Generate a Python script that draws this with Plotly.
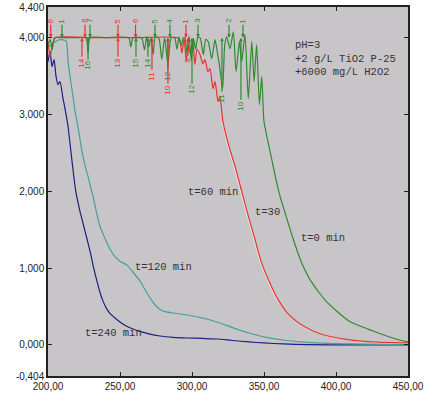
import plotly.graph_objects as go

# ---------------- data ----------------
x_ticks = [200, 250, 300, 350, 400, 450]
x_ticktext = ["200,00", "250,00", "300,00", "350,00", "400,00", "450,00"]
y_ticks = [-404, 0, 1000, 2000, 3000, 4000, 4400]
y_ticktext = ["-0,404", "0,000", "1,000", "2,000", "3,000", "4,000", "4,400"]

# t=0 min (green)
t0_x = [200.0, 201.5, 203.0, 204.5, 210, 220, 226.5, 227.8, 229.2, 240, 256, 257.5, 259, 265,
        267.0, 268.5, 270.0, 271.5, 273.0, 274.5, 277.0, 279.0, 281.0, 283.3, 285.5, 288.0,
        289.5, 291.0, 292.5, 294.0, 295.1, 296.5, 298.0, 299.5, 301.0, 302.5, 304.0, 305.6,
        307.9, 309.5, 311.3, 313.7, 316.0, 317.5, 319.0, 321.3, 322.7, 324.1, 326.4, 328.7,
        330.6, 332.9, 334.5, 336.8, 339.1, 341.5, 343.1, 344.9, 346.8, 348.4, 349.3,
        350.0, 354.2, 360.4, 366.0, 370.8, 375.7, 382.6, 393.1, 409.0, 425.7, 441.7, 450.0]
t0_y = [3900, 3980, 3850, 4000, 4000, 4000, 4000, 3800, 4000, 4000, 4000, 3880, 4000, 4000,
        3840, 4010, 3880, 4000, 3780, 4010, 3990, 3720, 4000, 3650, 4000, 4000,
        3850, 4010, 3900, 4000, 4000, 3800, 4020, 3700, 3990, 3850, 4000, 4000,
        3780, 3980, 3948, 3727, 3974, 3820, 3649, 3338, 3900, 4013, 3857, 4078,
        3558, 3948, 3688, 4039, 3208, 3948, 3429, 3909, 3130, 3494, 3150,
        2909, 2519, 1987, 1636, 1351, 1091, 831, 571, 312, 182, 78, 39]

# t=30 min (red)
t30_x = [200.0, 201.4, 203.0, 205.0, 230, 260, 290.0, 291.7, 293.0, 294.5, 296.0, 297.5, 299.0,
         300.5, 302.0, 303.5, 305.6, 307.6, 309.0, 311.1, 312.5, 314.6, 316.0, 318.1,
         319.4, 321.5, 325.7, 329.9, 334.7, 338.2, 343.1, 347.9, 353.5, 360.4, 366.0,
         372.2, 378.0, 384.0, 390.0, 397.9, 406.0, 416.0, 430.0, 450.0]
t30_y = [3950, 3750, 3900, 4000, 4000, 4000, 4000, 3950, 3800, 3990, 3700, 3900, 3780,
         3980, 3650, 3850, 3779, 3662, 3714, 3558, 3597, 3338, 3429, 3169,
         3234, 2909, 2584, 2325, 1987, 1740, 1416, 1091, 831, 571, 420,
         312, 240, 182, 140, 104, 75, 52, 36, 26]

# t=60 min (pale, almost on top of t=30)
t60_x = [321.0, 325.0, 329.2, 334.0, 337.5, 342.4, 347.2, 352.8, 359.7, 371.5, 383.3, 397.2,
         415.3, 450.0]
t60_y = [2909, 2584, 2325, 1987, 1740, 1416, 1091, 831, 571, 312, 182, 104, 52, 20]

# t=120 min (teal)
t120_x = [200.7, 204.9, 208.3, 212.5, 213.9, 215.3, 217.4, 218.8, 220.8, 223.6, 225.5, 227.8,
          229.5, 231.3, 233.5, 236.1, 239.5, 243.1, 246.5, 250.0, 254.9, 259.0, 263.9,
          268.0, 272.0, 275.7, 280.0, 286.8, 293.0, 300.7, 305.0, 310.4, 319.4, 329.0,
          339.6, 350.0, 363.2, 375.0, 386.1, 409.7, 450.0]
t120_y = [3883, 3948, 3974, 3961, 3688, 3494, 3234, 3039, 2844, 2519, 2350, 2195,
          2060, 1935, 1740, 1545, 1390, 1247, 1150, 1091, 1039, 950, 831,
          700, 580, 494, 440, 416, 400, 377, 360, 338, 286, 220,
          156, 105, 65, 40, 26, 13, 0]

# t=240 min (navy)
t240_x = [200.0, 201.4, 202.8, 204.2, 205.6, 206.9, 208.3, 210.4, 211.8, 213.9, 215.3, 216.7,
          218.0, 219.4, 220.8, 222.2, 224.0, 225.7, 227.5, 229.2, 231.5, 234.0, 236.0,
          238.2, 240.5, 243.0, 246.5, 250.0, 254.0, 259.0, 265.0, 270.0, 277.8, 287.0,
          296.5, 307.0, 317.4, 328.0, 339.6, 350.0, 363.2, 380.0, 409.7, 450.0]
t240_y = [3688, 3818, 3623, 3714, 3494, 3390, 3429, 3208, 3078, 2844, 2620, 2390,
          2180, 1987, 1860, 1740, 1610, 1481, 1350, 1221, 1020, 831, 690,
          571, 480, 410, 351, 300, 250, 208, 170, 145, 117, 100,
          91, 85, 78, 58, 39, 26, 13, 5, 0, 0]

# peak-pick labels (above the 4000 plateau)
peak_top_x = [201.9, 209.7, 225.7, 229.2, 248.6, 260.8, 274.3, 284.7, 295.8, 304.2, 325.7, 335.4]
peak_top_text = ["6", "1", "6", "7", "5", "6", "5", "4", "1", "3", "2", "1"]
peak_top_series = ["r", "g", "r", "g", "r", "r", "g", "g", "r", "g", "g", "g"]
# peak-pick labels (below the plateau)
peak_bot_x = [223.6, 227.8, 248.6, 261.1, 269.4, 272.2, 283.3, 283.3, 297.2, 300.0, 320.8, 334.0]
peak_bot_text = ["14", "16", "13", "15", "14", "11", "12", "10", "9", "12", "11", "10"]
peak_bot_series = ["r", "g", "r", "g", "g", "r", "g", "r", "r", "g", "g", "g"]
peak_bot_depth = [25, 28, 25, 25, 25, 38, 38, 52, 22, 52, 60, 68]  # label offsets (px)

# curve labels
curve_labels = ["t=60 min", "t=30", "t=0 min", "t=120 min", "t=240 min"]
curve_label_x = [295.8, 342.4, 374.3, 259.0, 224.3]
curve_label_y = [1987, 1727, 1390, 1013, 156]
cond_text = "pH=3<br>+2 g/L TiO2 P-25<br>+6000 mg/L H2O2"

# ---------------- styles ----------------
GREEN = "#2f8a2f"
RED = "#e8322f"
PALE = "#ebe6dc"
TEAL = "#46a09c"
NAVY = "#1e1e82"
series_color = {"g": GREEN, "r": RED}
MONO = "Liberation Mono, Courier New, monospace"
SANS = "Liberation Sans, Arial, sans-serif"

fig = go.Figure()
for xs, ys, col in [(t240_x, t240_y, NAVY), (t120_x, t120_y, TEAL), (t60_x, t60_y, PALE),
                    (t30_x, t30_y, RED), (t0_x, t0_y, GREEN)]:
    fig.add_trace(go.Scatter(x=xs, y=ys, mode="lines",
                             line=dict(color=col, width=1.2, shape="spline", smoothing=0.6),
                             showlegend=False, hoverinfo="skip"))

annotations = []
for x, t, s in zip(peak_top_x, peak_top_text, peak_top_series):
    c = series_color[s]
    annotations.append(dict(x=x, y=4000, xref="x", yref="y", text=t, textangle=-90,
                            showarrow=True, ax=0, ay=-17, arrowhead=2, arrowsize=0.6,
                            arrowwidth=1.2, arrowcolor=c, standoff=0,
                            font=dict(family=SANS, size=8, color=c)))
for x, t, s, d in zip(peak_bot_x, peak_bot_text, peak_bot_series, peak_bot_depth):
    c = series_color[s]
    annotations.append(dict(x=x, y=4000, xref="x", yref="y", text=t, textangle=-90,
                            showarrow=True, ax=0, ay=d, arrowhead=2, arrowsize=0.6,
                            arrowwidth=1.2, arrowcolor=c, standoff=0,
                            font=dict(family=SANS, size=8, color=c)))
for t, x, y in zip(curve_labels, curve_label_x, curve_label_y):
    annotations.append(dict(x=x, y=y, xref="x", yref="y", text=t, showarrow=False,
                            xanchor="left", yanchor="middle",
                            font=dict(family=MONO, size=10.5, color="#333333")))
annotations.append(dict(x=370.1, y=3727, xref="x", yref="y", text=cond_text,
                        showarrow=False, xanchor="left", yanchor="middle", align="left",
                        font=dict(family=MONO, size=10.5, color="#333333")))

fig.update_layout(
    width=432, height=395,
    margin=dict(l=48, r=24, t=7, b=19),
    paper_bgcolor="white",
    plot_bgcolor="#c8c5c9",
    annotations=annotations,
    showlegend=False,
)
fig.update_xaxes(range=[200, 450], tickvals=x_ticks, ticktext=x_ticktext, automargin=False,
                 showgrid=False, zeroline=False, showline=True, linecolor="#222222",
                 linewidth=1.5, mirror="ticks", ticks="inside", ticklen=4,
                 tickcolor="#222222", tickfont=dict(family=SANS, size=10, color="#222222"))
fig.update_yaxes(range=[-404, 4400], tickvals=y_ticks, ticktext=y_ticktext, automargin=False,
                 showgrid=False, zeroline=False, showline=True, linecolor="#222222",
                 linewidth=1.5, mirror="ticks", ticks="inside", ticklen=4,
                 tickcolor="#222222", tickfont=dict(family=SANS, size=10, color="#222222"))

# remove the default 8 px body margin so the figure sits at the page origin
fig.write_html("out.html",
               config={"displayModeBar": False},
               post_script="document.body.style.margin='0';document.body.style.overflow='hidden';")
